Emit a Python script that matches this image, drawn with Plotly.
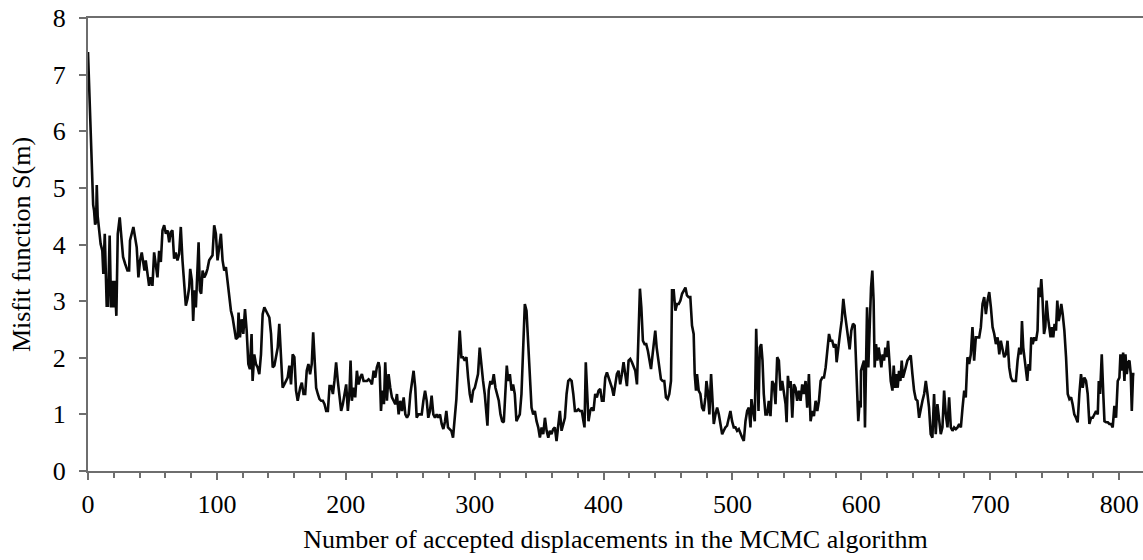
import plotly.graph_objects as go

# Number of accepted displacements (x) and misfit S(m) (y)
steps = [0, 1, 2, 3, 4, 4.7, 5.5, 6.3, 6.8, 7.5, 8.5,
9.8, 11.1, 11.9, 13.0, 13.7, 14.5, 15.5, 16.8, 17.9, 18.9, 19.7, 20.7, 22.0, 23.1, 24.6, 25.9, 27.2, 28.8, 30.6, 31.9, 32.6, 33.9, 35.2, 36.5, 37.8, 39.1, 40.4, 41.7, 42.7, 43.8, 44.8, 46.1, 47.4, 48.7, 50.0, 51.3, 52.6, 53.9, 55.2, 56.5, 57.8, 59.1, 60.4, 61.7, 63.0, 64.2, 65.5, 66.8, 68.1, 69.4, 70.7, 72.0, 73.3, 74.6, 75.9, 77.2, 78.5, 79.3, 80.6, 81.6, 82.6, 83.7, 84.7, 85.8, 86.8, 87.8, 88.9, 90.2, 91.5, 92.7, 94.0, 95.3, 96.6, 97.9, 99.2, 100.5, 101.8, 103.1, 104.4, 105.7, 107.0, 108.3, 109.6, 110.9, 112.2, 113.5, 114.8, 116.1, 116.8, 117.9, 119.2, 120.5, 121.8, 123.1, 124.4, 125.6, 126.9, 127.7, 129.0, 130.3, 131.6, 132.9, 134.2, 135.5, 136.8, 138.1, 139.4, 140.7, 142.0, 143.3, 144.6, 145.9, 147.2, 148.4, 149.7, 151.0, 152.3, 153.6, 154.9, 156.2, 157.5, 158.8, 160.1, 161.4, 162.7,
164.6, 165.9, 167.2, 168.5, 169.7, 171.0, 172.3, 173.6, 174.7, 175.7, 177.0, 178.3, 179.6, 180.9, 182.2, 183.5, 184.8, 186.1, 187.4, 188.7, 190.0, 191.2, 192.5, 193.8, 195.1, 196.4, 197.7, 199.0, 200.3, 201.6, 202.9, 203.7, 204.7, 206.0, 207.3, 208.6, 209.9, 211.2, 212.5, 213.8, 215.1, 216.4, 217.7, 219.0, 220.3, 221.6, 222.9, 224.1, 225.4, 226.2, 227.3, 228.3, 229.6, 230.6, 231.9, 233.2, 234.5, 235.8, 237.1, 238.4, 239.7, 241.0, 242.3, 243.6, 244.9, 246.2, 247.5, 248.8, 250.1, 251.4, 252.6, 253.9, 255.0, 256.3, 257.6, 258.9, 260.2, 261.5, 262.8, 264.0, 265.3, 266.6, 267.9, 269.2, 270.5, 271.8, 273.1, 274.4, 275.7, 277.0, 278.0, 279.3, 280.6, 281.9, 283.2, 284.5, 285.8, 287.1, 288.4, 289.7, 291.0, 292.3, 293.6, 294.9, 296.2, 297.5, 298.8, 300.1, 301.4, 302.6, 303.9, 305.2, 306.5, 307.8, 309.1, 309.9, 310.9, 312.2, 313.5, 314.8, 316.1, 317.4, 318.7, 320.0, 321.3, 322.6, 323.9, 324.9, 326.0, 327.3, 328.6, 329.8, 331.1, 332.4, 333.7, 335.0, 336.3, 337.6, 338.9, 340.2, 341.5, 342.8, 344.1, 345.4, 346.7, 348.0, 349.3, 350.6, 351.9, 353.2, 354.5, 355.8, 357.1, 358.3, 359.6, 360.9, 362.2, 363.5, 364.8, 366.1, 367.4, 368.7, 370.0, 371.3, 372.6, 373.9, 375.2, 376.5, 377.8, 379.1, 380.4, 381.7,
383.1, 384.4, 385.2, 386.2, 387.3, 388.3, 389.6, 390.9, 392.2, 393.5, 394.8, 396.1, 397.4, 398.7, 400.0, 401.3, 402.6, 403.9, 405.2, 406.5, 407.8, 409.0, 410.3, 411.6, 412.9, 414.2, 415.5, 416.8, 418.1, 419.4, 420.7, 422.0, 423.3, 424.6, 425.9, 427.2, 428.2, 429.3, 430.5, 431.8, 433.1, 434.4, 435.7, 436.8, 437.8, 438.8, 440.1, 441.2, 442.2, 443.2, 444.5, 445.8, 447.1, 448.4, 449.7, 451.0, 452.3, 453.1, 454.4, 455.7, 457.0, 458.3, 459.6, 460.9, 462.2, 463.5, 464.7, 466.0, 467.3, 468.6, 469.9, 470.7, 471.7, 472.5, 473.8, 475.1, 476.4, 477.7, 479.0, 479.8, 480.8, 482.1, 483.4, 484.4, 485.5, 486.8, 488.1, 489.4, 490.7, 492.0, 493.2, 494.5, 495.8, 497.1, 498.4, 499.7, 501.0, 502.3, 503.6, 504.9, 506.2, 507.5, 508.8, 510.1, 511.4, 512.7, 514.0, 514.7, 516.0, 517.3, 518.4, 519.4, 520.2, 521.2, 522.3, 523.3, 524.3, 525.6, 526.9, 528.2, 529.5, 530.8, 532.1, 533.4, 534.7, 536.0, 537.3, 538.6, 539.9, 541.2, 542.0, 543.0, 544.0, 545.1, 546.4, 547.6, 548.9, 550.2, 551.5, 552.8, 554.1, 555.4, 556.7, 558.0, 559.3, 560.6, 561.9, 563.2, 564.5, 565.8, 567.1, 568.4, 569.7, 571.0, 572.3, 573.6, 574.9, 576.1, 577.4, 578.7, 580.0, 580.8, 582.1, 583.4, 584.7, 586.0, 587.3, 588.6, 589.9, 590.9, 592.2, 593.5, 594.8, 595.8, 596.9, 597.6, 598.7, 599.5,
599.7, 601.0, 602.0, 602.8, 603.6, 604.4, 605.4, 606.4, 607.5, 608.5, 609.5, 610.3, 611.4, 612.4, 613.4, 614.5, 615.5, 616.5, 617.6, 618.6, 619.6, 620.7, 621.7, 622.8, 624.1, 625.1, 626.1, 627.2, 628.2, 629.2, 630.3, 631.3, 632.3, 633.4, 634.4, 635.7, 637.0, 638.3, 639.6, 640.9, 642.2, 643.5, 644.8, 646.1, 647.4, 648.7, 650.0, 651.3, 652.5, 653.8, 655.1, 656.4, 657.7, 659.0, 660.3, 661.6, 662.9, 664.2, 665.5, 666.8, 668.1, 669.4, 670.7, 672.0, 673.3, 674.6, 675.9, 677.2, 678.5, 679.8, 681.0, 682.3, 683.6, 684.9, 686.2, 687.5, 688.8, 690.1, 691.4, 692.7, 694.0, 695.3, 696.6, 697.9, 699.2, 700.5, 701.8, 703.1, 704.4, 705.7, 707.0, 708.2, 709.5, 710.8, 712.1, 713.4, 714.7, 716.0, 717.3, 718.6, 719.9, 721.2, 722.5, 723.8, 724.6, 725.6, 726.6, 727.7, 728.7, 729.7, 730.8, 731.8, 732.9, 734.2, 735.5, 736.7, 737.5, 738.6, 739.6, 740.6, 741.7, 742.7, 743.7, 744.8, 745.8, 746.8, 747.9, 748.9, 749.9, 751.0, 752.0, 753.1, 754.1, 755.1, 756.2, 757.5, 758.8, 760.1, 761.4, 762.7, 763.9, 765.2, 766.5, 767.8, 769.1, 770.4, 771.7, 773.0, 774.3, 775.6, 776.9, 778.2, 779.5, 780.8, 782.1, 783.4, 784.2, 785.2, 786.5, 787.8, 788.6, 789.9, 791.2, 792.4, 793.7, 795.0, 796.3, 797.6, 798.9, 800.2, 801.0, 802.0, 803.1, 804.1, 804.9, 805.9, 807.0, 808.0, 809.0, 809.8, 810.8, 811.9]

misfit = [7.4, 6.7, 6.0, 5.3, 4.7, 4.6, 4.35, 4.4, 5.05, 4.5, 4.3,
4.01, 3.89, 3.48, 4.19, 3.42, 2.92, 2.92, 4.16, 2.89, 3.36, 2.89, 3.36, 2.74, 4.19, 4.48, 4.13, 3.78, 3.66, 3.54, 3.54, 4.07, 4.19, 4.31, 4.13, 3.95, 3.42, 3.72, 3.86, 3.72, 3.54, 3.72, 3.45, 3.27, 3.42, 3.27, 3.86, 3.60, 3.42, 3.89, 3.69, 4.25, 4.34, 4.19, 4.25, 4.04, 4.22, 4.25, 3.75, 3.86, 3.72, 3.83, 4.31, 3.72, 3.24, 2.92, 3.04, 3.24, 3.57, 3.36, 2.65, 3.19, 2.89, 3.36, 4.04, 3.19, 3.13, 3.54, 3.42, 3.48, 3.57, 3.72, 3.78, 3.81, 4.34, 4.19, 3.72, 3.95, 4.19, 3.72, 3.54, 3.60, 3.36, 3.07, 2.83, 2.71, 2.54, 2.33, 2.36, 2.80, 2.36, 2.68, 2.42, 2.86, 2.48, 1.89, 1.80, 2.42, 1.59, 2.06, 1.89, 1.83, 1.71, 2.06, 2.77, 2.89, 2.83, 2.77, 2.71, 2.42, 1.83, 1.86, 2.06, 2.18, 2.60, 1.95, 1.47, 1.53, 1.59, 1.65, 1.86, 1.53, 2.06, 2.01, 1.42, 1.24,
1.47, 1.56, 1.36, 1.36, 1.77, 1.89, 1.71, 1.89, 2.45, 1.95, 1.47, 1.36, 1.27, 1.24, 1.24, 1.18, 1.06, 1.06, 1.50, 1.50, 1.36, 1.59, 1.92, 1.59, 1.30, 1.06, 1.18, 1.36, 1.53, 1.06, 1.42, 1.95, 1.24, 1.47, 1.30, 1.77, 1.53, 1.65, 1.71, 1.59, 1.59, 1.59, 1.62, 1.59, 1.53, 1.77, 1.65, 1.83, 1.92, 1.83, 1.06, 1.42, 1.18, 1.92, 1.24, 1.71, 1.47, 1.30, 1.24, 1.18, 1.36, 1.00, 1.24, 1.06, 1.30, 1.00, 0.94, 1.00, 1.36, 1.59, 1.77, 1.47, 0.94, 1.00, 1.00, 1.00, 1.24, 1.42, 1.24, 0.94, 1.06, 1.33, 1.00, 0.94, 1.00, 0.94, 1.00, 0.83, 0.74, 0.88, 1.06, 0.77, 0.74, 0.71, 0.59, 0.88, 1.27, 1.89, 2.48, 2.01, 2.01, 1.95, 2.01, 1.65, 1.36, 1.21, 1.42, 1.47, 1.59, 1.71, 2.18, 1.83, 1.59, 1.36, 1.06, 0.80, 1.42, 1.59, 1.53, 1.71, 1.47, 1.36, 1.24, 1.00, 0.88, 0.86, 1.36, 1.86, 1.59, 1.71, 1.42, 1.53, 1.36, 0.88, 0.94, 1.00, 1.36, 2.18, 2.95, 2.83, 2.18, 1.59, 1.12, 1.00, 1.06, 0.88, 0.77, 0.59, 0.77, 0.65, 0.94, 0.71, 0.59, 0.71, 0.65, 0.74, 0.77, 0.53, 0.77, 1.06, 0.71, 0.83, 0.94, 1.36, 1.59, 1.62, 1.59, 1.36, 1.06, 1.06, 1.09, 1.06,
1.06, 0.88, 0.77, 1.92, 1.24, 0.88, 1.06, 1.12, 1.06, 1.36, 1.30, 1.42, 1.45, 1.24, 1.24, 1.65, 1.74, 1.65, 1.59, 1.47, 1.33, 1.53, 1.71, 1.77, 1.53, 1.71, 1.92, 1.71, 1.50, 1.95, 1.98, 1.92, 1.83, 1.77, 1.53, 2.30, 3.22, 2.89, 2.30, 2.24, 2.24, 2.12, 1.95, 1.80, 2.01, 2.18, 2.48, 2.18, 1.98, 1.83, 1.62, 1.59, 1.59, 1.30, 1.27, 1.36, 1.59, 3.19, 3.19, 2.83, 2.95, 2.95, 3.01, 3.13, 3.19, 3.24, 3.10, 3.07, 3.07, 2.57, 2.42, 1.71, 1.42, 1.71, 1.42, 1.36, 1.12, 1.06, 1.30, 1.59, 1.42, 1.00, 1.71, 1.36, 0.83, 1.00, 1.12, 1.00, 0.83, 0.65, 0.71, 0.77, 0.80, 0.91, 1.06, 0.88, 0.77, 0.77, 0.71, 0.74, 0.65, 0.59, 0.53, 0.88, 1.06, 1.12, 0.77, 1.27, 1.06, 0.88, 2.51, 1.71, 1.06, 2.18, 2.24, 1.95, 1.36, 1.00, 1.00, 1.24, 0.97, 1.59, 1.53, 1.18, 2.01, 1.95, 1.42, 1.59, 1.36, 1.18, 0.86, 1.68, 1.47, 1.59, 0.94, 1.53, 1.47, 1.24, 1.42, 1.24, 1.53, 1.36, 1.59, 1.12, 1.71, 0.88, 1.06, 0.97, 1.24, 1.06, 1.24, 1.59, 1.65, 1.65, 1.83, 2.18, 2.42, 2.30, 2.30, 2.18, 2.24, 1.92, 2.24, 2.42, 2.65, 3.04, 2.77, 2.54, 2.24, 2.15, 2.48, 2.60, 2.57, 1.95, 1.59, 0.88, 1.24, 1.12,
1.77, 1.89, 1.95, 0.77, 1.95, 2.89, 1.83, 2.65, 3.24, 3.54, 3.01, 1.83, 2.24, 1.95, 2.18, 2.01, 1.83, 2.06, 1.95, 2.18, 2.01, 2.30, 1.89, 1.59, 1.42, 1.86, 1.47, 1.71, 1.47, 1.77, 1.59, 1.95, 1.65, 1.77, 1.83, 1.95, 2.01, 2.04, 1.71, 1.42, 1.27, 1.24, 0.94, 1.12, 1.24, 1.36, 1.59, 1.36, 1.12, 0.65, 0.59, 1.36, 0.65, 1.18, 0.88, 0.65, 0.77, 1.42, 1.00, 0.77, 1.30, 0.77, 0.71, 0.77, 0.74, 0.77, 0.83, 0.77, 1.12, 1.42, 1.30, 2.01, 1.89, 2.06, 2.54, 1.95, 2.36, 2.36, 2.36, 2.54, 2.95, 3.07, 2.77, 3.01, 3.16, 2.89, 2.54, 2.42, 2.24, 2.36, 2.06, 2.30, 2.18, 2.01, 2.06, 2.30, 1.83, 1.65, 1.59, 1.59, 1.59, 1.95, 2.18, 2.06, 2.65, 2.18, 1.95, 1.83, 1.59, 1.89, 1.77, 2.36, 2.24, 2.36, 2.30, 2.48, 3.24, 3.07, 3.39, 3.01, 2.42, 2.54, 3.01, 2.71, 2.54, 2.36, 2.54, 2.36, 2.60, 2.48, 3.01, 2.65, 2.77, 2.95, 2.77, 2.48, 2.01, 1.36, 1.27, 1.30, 1.18, 1.00, 0.94, 0.86, 1.36, 1.71, 1.47, 1.65, 1.59, 1.36, 0.83, 0.94, 0.94, 1.00, 1.06, 1.00, 1.59, 1.36, 2.06, 1.30, 0.88, 0.86, 0.86, 0.83, 0.83, 0.77, 1.15, 0.94, 1.59, 1.65, 2.06, 1.77, 2.09, 1.59, 2.06, 1.71, 1.92, 1.95, 1.71, 1.06, 1.71, 1.71]

x_ticks = [0, 100, 200, 300, 400, 500, 600, 700, 800]
y_ticks = [0, 1, 2, 3, 4, 5, 6, 7, 8]
x_title = "Number of accepted displacements in the MCMC algorithm"
y_title = "Misfit function S(m)"

FONT = '"Liberation Serif", "Times New Roman", Times, serif'
AXIS = "#6e6e6e"
FS = 26

fig = go.Figure()
fig.add_trace(go.Scatter(x=steps, y=misfit, mode="lines",
                         line=dict(color="#0a0a0a", width=2.6),
                         showlegend=False, hoverinfo="skip"))

fig.update_layout(
    width=1143, height=560,
    margin=dict(l=88, r=0, t=18, b=89),
    paper_bgcolor="white", plot_bgcolor="white",
    font=dict(family=FONT, size=FS, color="#000000"),
)
fig.update_xaxes(
    range=[0, 818.5], tickvals=x_ticks, ticktext=[str(v) for v in x_ticks],
    showgrid=False, zeroline=False,
    showline=True, linecolor=AXIS, linewidth=2, mirror=True,
    ticks="outside", ticklen=7, tickwidth=2, tickcolor=AXIS,
    minor=dict(dtick=20, tick0=0, ticks="outside", ticklen=5, tickwidth=2, tickcolor=AXIS),
    tickfont=dict(family=FONT, size=FS, color="#000"),
    ticklabelstandoff=2,
    title=dict(text=x_title, font=dict(family=FONT, size=FS, color="#000"), standoff=12),
)
fig.update_yaxes(
    range=[0, 8], tickvals=y_ticks, ticktext=[str(v) for v in y_ticks],
    showgrid=False, zeroline=False,
    showline=True, linecolor=AXIS, linewidth=2,
    ticks="outside", ticklen=7, tickwidth=2, tickcolor=AXIS,
    tickfont=dict(family=FONT, size=FS, color="#000"),
    ticklabelstandoff=8,
    title=dict(text=y_title, font=dict(family=FONT, size=FS, color="#000"), standoff=15),
)

fig.write_html("out.html")
